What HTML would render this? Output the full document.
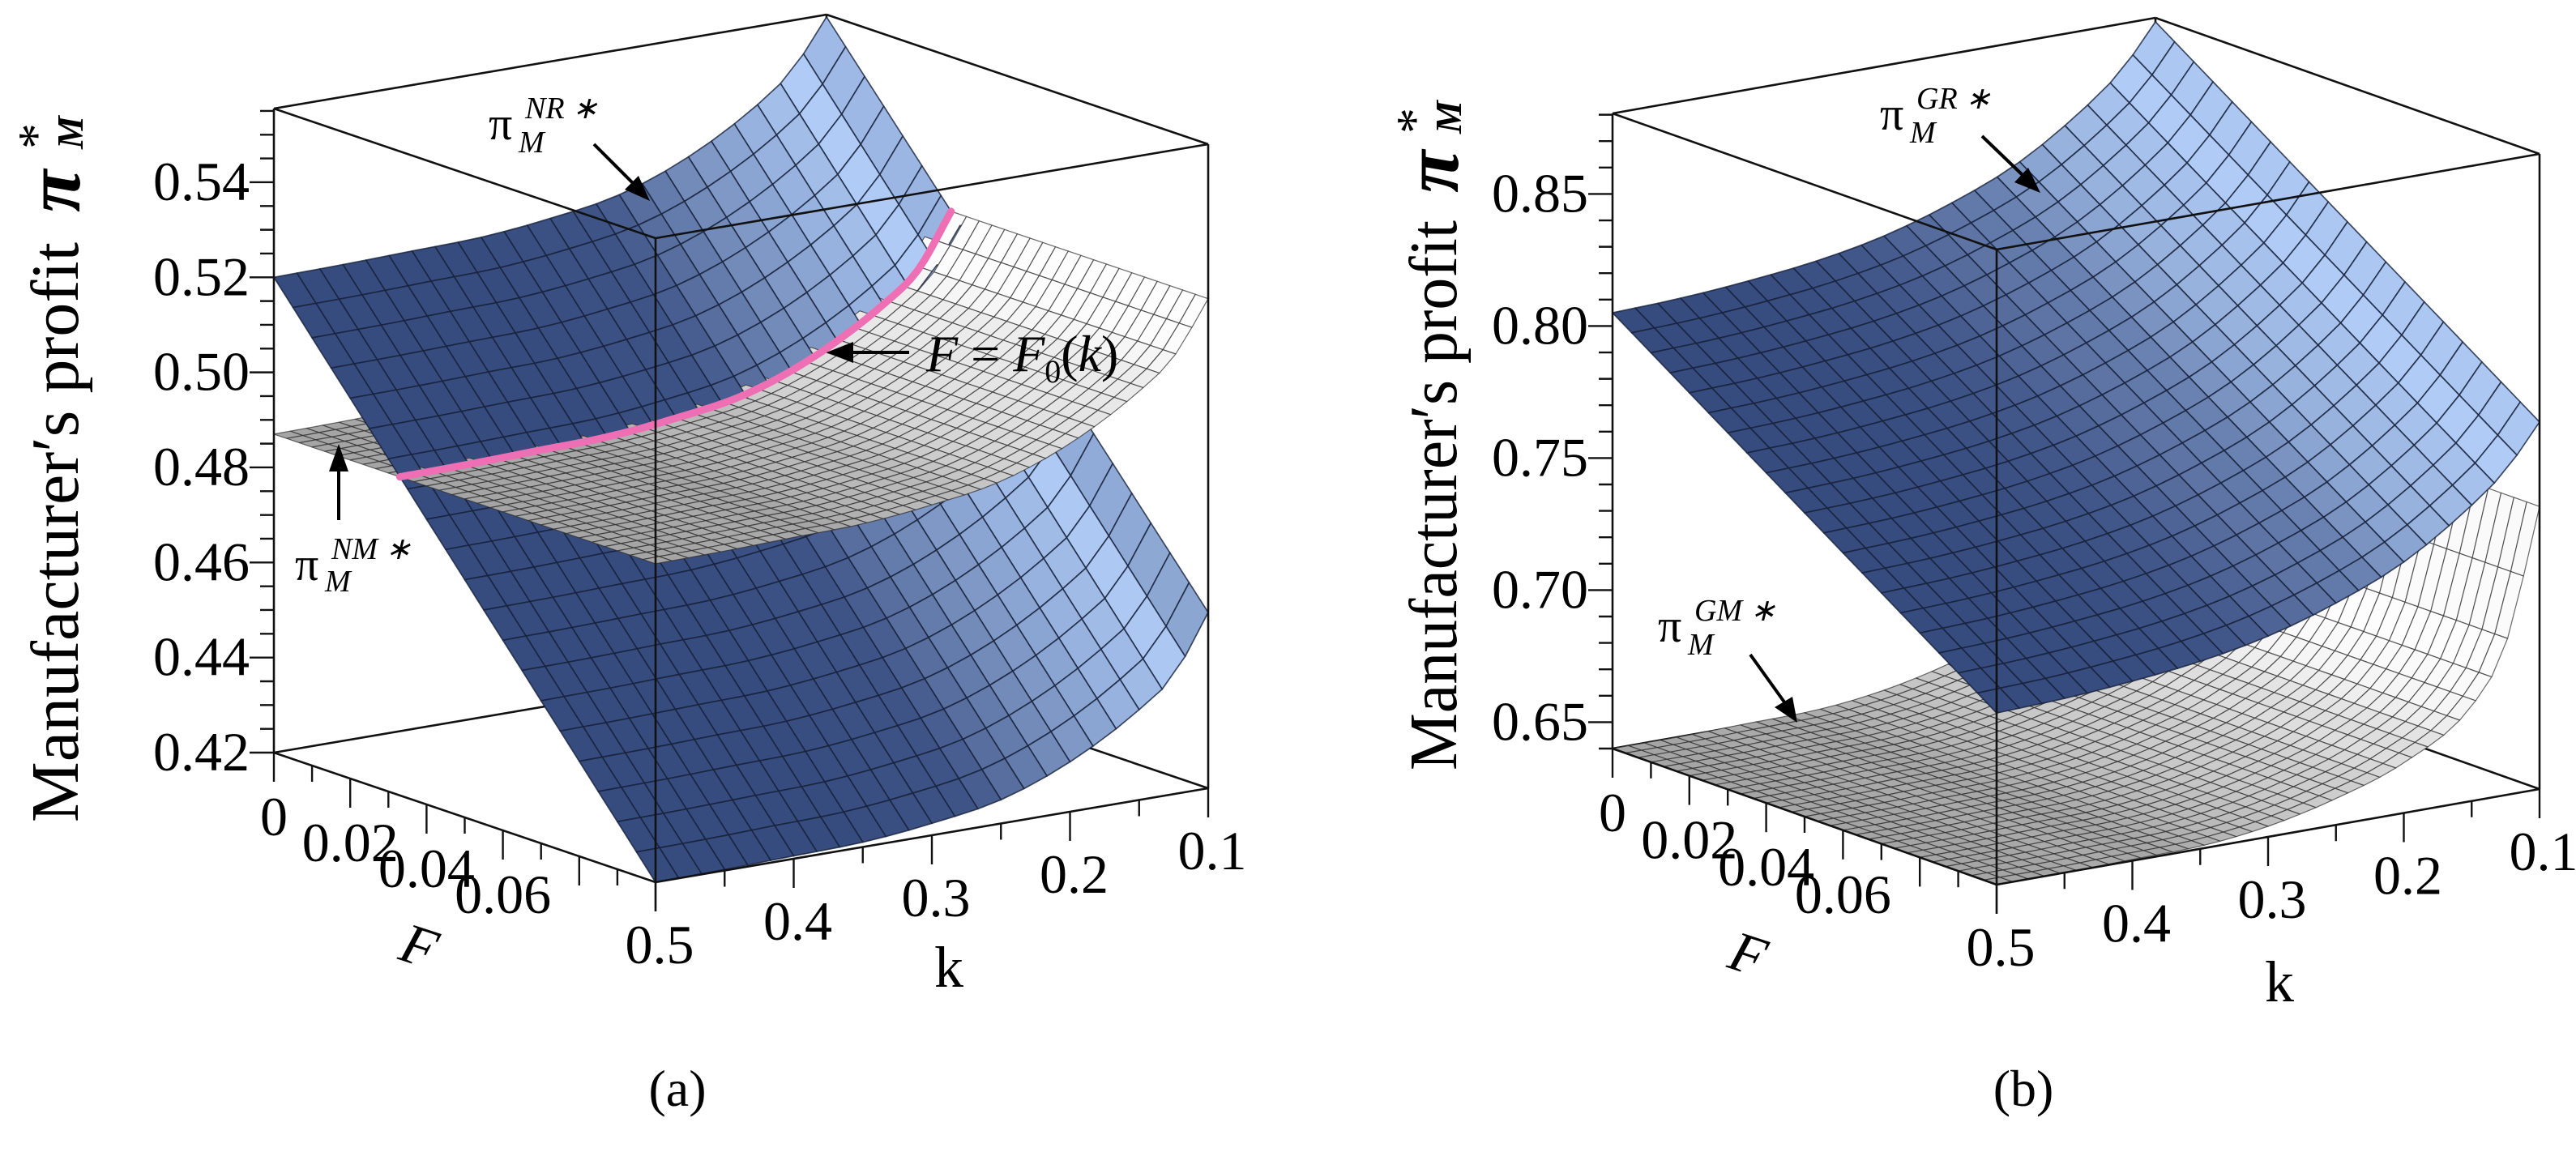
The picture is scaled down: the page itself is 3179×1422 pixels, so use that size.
<!DOCTYPE html>
<html><head><meta charset="utf-8"><title>Manufacturer profit surfaces</title>
<style>
html,body{margin:0;padding:0;background:#fff;}
svg{display:block;font-family:"Liberation Serif",serif;}
</style></head>
<body>
<svg id="fig" width="3179" height="1422" viewBox="0 0 3179 1422">
  <rect x="0" y="0" width="3179" height="1422" fill="#fff"/>
  <g id="panelA"></g>
  <g id="panelB"></g>

  <!-- titles panel a -->
  <text transform="translate(96,1015) rotate(-90)" font-size="84" textLength="716" lengthAdjust="spacingAndGlyphs">Manufacturer′s profit</text>
  <text transform="translate(98,262) rotate(-90)" font-size="96" font-style="italic" font-weight="bold">π</text>
  <text transform="translate(66,184) rotate(-90)" font-size="64">*</text>
  <text transform="translate(102,184) rotate(-90)" font-size="46" font-style="italic" font-weight="bold">M</text>
  <!-- titles panel b -->
  <text transform="translate(1797,951) rotate(-90)" font-size="84" textLength="679" lengthAdjust="spacingAndGlyphs">Manufacturer′s profit</text>
  <text transform="translate(1799,238) rotate(-90)" font-size="96" font-style="italic" font-weight="bold">π</text>
  <text transform="translate(1767,165) rotate(-90)" font-size="64">*</text>
  <text transform="translate(1803,165) rotate(-90)" font-size="46" font-style="italic" font-weight="bold">M</text>

  <!-- panel captions -->
  <text x="836" y="1365" font-size="64" text-anchor="middle">(a)</text>
  <text x="2497" y="1365" font-size="64" text-anchor="middle">(b)</text>

  <g id="annotations" fill="#000">
    <g>
      <text x="603" y="172" font-size="58">π</text>
      <text x="648" y="146" font-size="38" font-style="italic">NR ∗</text>
      <text x="640" y="188" font-size="38" font-style="italic">M</text>
      <line x1="733" y1="178" x2="783" y2="228" stroke="#000" stroke-width="4"/>
      <polygon points="802,248 771,234 788,217"/>
    </g>
    <g>
      <text x="364" y="716" font-size="58">π</text>
      <text x="409" y="690" font-size="38" font-style="italic">NM ∗</text>
      <text x="401" y="730" font-size="38" font-style="italic">M</text>
      <line x1="418" y1="642" x2="418" y2="580" stroke="#000" stroke-width="4"/>
      <polygon points="418,548 406,582 430,582"/>
    </g>
    <g>
      <line x1="1122" y1="435" x2="1050" y2="435" stroke="#000" stroke-width="4"/>
      <polygon points="1020,435 1053,422 1053,448"/>
      <text x="1143" y="458" font-size="64" font-style="italic">F <tspan font-style="normal">=</tspan> F<tspan font-size="40" font-style="normal" dy="14">0</tspan><tspan dy="-14" font-style="normal">(</tspan>k<tspan font-style="normal">)</tspan></text>
    </g>
    <g>
      <text x="2320" y="160" font-size="58">π</text>
      <text x="2365" y="134" font-size="38" font-style="italic">GR ∗</text>
      <text x="2357" y="176" font-size="38" font-style="italic">M</text>
      <line x1="2446" y1="168" x2="2498" y2="218" stroke="#000" stroke-width="4"/>
      <polygon points="2518,238 2486,225 2503,207"/>
    </g>
    <g>
      <text x="2046" y="792" font-size="58">π</text>
      <text x="2091" y="766" font-size="38" font-style="italic">GM ∗</text>
      <text x="2083" y="808" font-size="38" font-style="italic">M</text>
      <line x1="2160" y1="808" x2="2203" y2="868" stroke="#000" stroke-width="4"/>
      <polygon points="2218,892 2190,873 2212,860"/>
    </g>
  </g>
</svg>
<script>
// ---------------- data ----------------
const kVals   = [0.5, 0.45, 0.4, 0.35, 0.3, 0.25, 0.2, 0.15, 0.125, 0.1];
// panel (a)
const nrAtF0   = [0.520, 0.5202, 0.5206, 0.521, 0.5225, 0.525, 0.5305, 0.539, 0.545, 0.555];
const nrAtFmax = [0.420, 0.4202, 0.4206, 0.421, 0.4225, 0.425, 0.4305, 0.439, 0.445, 0.457];
const nmVals   = [0.487, 0.4872, 0.4876, 0.488, 0.4895, 0.492, 0.4975, 0.506, 0.512, 0.523];
// panel (b)
const grAtF0   = [0.805, 0.806, 0.808, 0.811, 0.816, 0.824, 0.835, 0.852, 0.863, 0.879];
const grAtFmax = [0.705, 0.706, 0.708, 0.711, 0.716, 0.724, 0.735, 0.752, 0.763, 0.779];
const gmVals   = [0.640, 0.640, 0.6405, 0.641, 0.644, 0.650, 0.659, 0.676, 0.697, 0.747];
// ticks
const yTicksA = [0.42, 0.44, 0.46, 0.48, 0.50, 0.52, 0.54];
const yTicksB = [0.65, 0.70, 0.75, 0.80, 0.85];
const fTickLabels = [0, 0.02, 0.04, 0.06];
const kTickLabels = [0.5, 0.4, 0.3, 0.2, 0.1];

const svg = document.getElementById('fig');
const NS = svg.namespaceURI;
function mk(tag, attrs, parent){
  const e = document.createElementNS(NS, tag);
  for (const a in attrs) e.setAttribute(a, attrs[a]);
  parent.appendChild(e);
  return e;
}
function mono(xs, ys){
  const n = xs.length, d = [], m = [];
  for (let i=0;i<n-1;i++) d.push((ys[i+1]-ys[i])/(xs[i+1]-xs[i]));
  m[0]=d[0]; m[n-1]=d[n-2];
  for (let i=1;i<n-1;i++) m[i] = (d[i-1]*d[i]<=0) ? 0 : (d[i-1]+d[i])/2;
  for (let i=0;i<n-1;i++){
    if (d[i]===0){m[i]=0;m[i+1]=0;continue;}
    const a=m[i]/d[i], b=m[i+1]/d[i], s=a*a+b*b;
    if (s>9){const t=3/Math.sqrt(s); m[i]=t*a*d[i]; m[i+1]=t*b*d[i];}
  }
  return function(x){
    let i=0; while(i<n-2 && x>xs[i+1]) i++;
    const h=xs[i+1]-xs[i], t=(x-xs[i])/h, t2=t*t, t3=t2*t;
    return (2*t3-3*t2+1)*ys[i]+(t3-2*t2+t)*h*m[i]+(-2*t3+3*t2)*ys[i+1]+(t3-t2)*h*m[i+1];
  };
}
function curve(vals){ return mono(kVals.slice().reverse(), vals.slice().reverse()); }
function lerpC(c1,c2,t){ return 'rgb('+c1.map((v,i)=>Math.round(v+(c2[i]-v)*t)).join(',')+')'; }

function drawPanel(g, P, surfaces, extras){
  const proj = (F,k,z)=>{
    const uF=F/P.Fmax, uk=(0.5-k)/0.4, uz=(z-P.zmin)/(P.zmax-P.zmin);
    return [P.O[0]+uF*P.vF[0]+uk*P.vK[0]+uz*P.vZ[0], P.O[1]+uF*P.vF[1]+uk*P.vK[1]+uz*P.vZ[1]];
  };
  const corner = {
    lb:proj(0,0.5,P.zmin), fb:proj(P.Fmax,0.5,P.zmin), rb:proj(P.Fmax,0.1,P.zmin), bb:proj(0,0.1,P.zmin),
    lt:proj(0,0.5,P.zmax), ft:proj(P.Fmax,0.5,P.zmax), rt:proj(P.Fmax,0.1,P.zmax), bt:proj(0,0.1,P.zmax)
  };
  function edge(a,b,name){
    const l = mk('line',{x1:a[0],y1:a[1],x2:b[0],y2:b[1],stroke:'#111','stroke-width':2.6},g);
    
    
  }
  edge(corner.lb,corner.bb,'box-edge-back-left-bottom');
  edge(corner.bb,corner.rb,'box-edge-back-right-bottom');
  edge(corner.bb,corner.bt,'box-edge-back-vertical');

  const quads=[];
  const v=[1,-0.75,0.35], vl=Math.hypot(...v);
  surfaces.forEach(s=>{
    const f0=curve(s.f0), fm=curve(s.fm);
    const val=(F,k)=>{ const a=f0(k), b=fm(k); return Math.min(P.zmax,Math.max(P.zmin,a+(b-a)*F/P.Fmax)); };
    const list=[];
    for (let i=0;i<s.nF;i++) for (let j=0;j<s.nK;j++){
      const F0=P.Fmax*i/s.nF, F1=P.Fmax*(i+1)/s.nF;
      const k0=0.5-0.4*j/s.nK, k1=0.5-0.4*(j+1)/s.nK;
      const z00=val(F0,k0), z10=val(F1,k0), z11=val(F1,k1), z01=val(F0,k1);
      const pts=[proj(F0,k0,z00),proj(F1,k0,z10),proj(F1,k1,z11),proj(F0,k1,z01)];
      const H=1.2/(P.zmax-P.zmin);
      const dzF=((z10+z11)-(z00+z01))/2*H/(1/s.nF);
      const dzK=((z01+z11)-(z00+z10))/2*H/(1/s.nK);
      const n=[-dzF,-dzK,1], nl=Math.hypot(...n);
      const sh=(n[0]*v[0]+n[1]*v[1]+n[2]*v[2])/(nl*vl);
      const uzAvg=((z00+z10+z11+z01)/4-P.zmin)/(P.zmax-P.zmin);
      const depth=(F0+F1)/2/P.Fmax + (1-((0.5-(k0+k1)/2)/0.4)) + 0.45*uzAvg;
      list.push({pts,sh,depth,s});
    }
    let mn=Infinity,mx=-Infinity; list.forEach(q=>{mn=Math.min(mn,q.sh);mx=Math.max(mx,q.sh);});
    list.forEach(q=>{ q.t=Math.pow((q.sh-mn)/((mx-mn)||1), s.gamma); quads.push(q); });
  });
  quads.sort((a,b)=>a.depth-b.depth);
  quads.forEach(q=>{
    const d='M'+q.pts.map(p=>p[0].toFixed(1)+','+p[1].toFixed(1)).join('L')+'Z';
    const p=mk('path',{d:d,fill:lerpC(q.s.dark,q.s.light,q.t),stroke:q.s.stroke,'stroke-width':q.s.sw,'stroke-opacity':q.s.so,'stroke-linejoin':'round'},g);
    
    
  });

  if (extras.curve){
    const f0=curve(extras.curve.f0), fm=curve(extras.curve.fm), nm=curve(extras.curve.m);
    const pts=[];
    for (let i=0;i<=80;i++){
      const k=0.5-0.4*i/80;
      const a=f0(k), b=fm(k), m=nm(k);
      const F=(a-m)/(a-b)*P.Fmax;
      if (F>=0 && F<=P.Fmax) pts.push(proj(F,k,m));
    }
    const pl=mk('polyline',{points:pts.map(p=>p[0].toFixed(1)+','+p[1].toFixed(1)).join(' '),fill:'none',stroke:'#ee6fb3','stroke-width':9,'stroke-linecap':'round','stroke-linejoin':'round'},g);
    
    
  }

  edge(corner.lt,corner.bt,'box-edge-top-back-left');
  edge(corner.bt,corner.rt,'box-edge-top-back-right');
  edge(corner.lt,corner.ft,'box-edge-top-front-left');
  edge(corner.ft,corner.rt,'box-edge-top-front-right');
  edge(corner.ft,corner.fb,'box-edge-front-vertical');
  edge(corner.rt,corner.rb,'box-edge-right-vertical');
  edge(corner.lb,corner.fb,'f-axis-line');
  edge(corner.fb,corner.rb,'k-axis-line');
  edge(corner.lt,corner.lb,'z-axis-line');

  const zx=corner.lb[0];
  for (let z=P.zTickStart; z<=P.zmax+1e-9; z+=P.zMinor){
    const y=proj(0,0.5,z)[1];
    const major=extras.yTicks.some(t=>Math.abs(t-z)<1e-6);
    const t=mk('line',{x1:zx-(major?30:17),y1:y,x2:zx,y2:y,stroke:'#111','stroke-width':2.4},g);
    
    
  }
  extras.yTicks.forEach(z=>{
    const y=proj(0,0.5,z)[1];
    const tx=mk('text',{x:zx-30,y:y+22,'font-size':68,'text-anchor':'end'},g);
    tx.textContent=z.toFixed(2);
    
    
  });
  for (let i=0;i<=10;i++){
    const F=P.Fmax*i/10, p=proj(F,0.5,P.zmin), major=i%2===0;
    const t=mk('line',{x1:p[0],y1:p[1],x2:p[0],y2:p[1]+(major?36:20),stroke:'#111','stroke-width':2.4},g);
    
    
  }
  fTickLabels.forEach(F=>{
    const p=proj(F,0.5,P.zmin);
    const tx=mk('text',{x:p[0],y:p[1]+102,'font-size':68,'text-anchor':'middle'},g);
    tx.textContent=String(F);
    
    
  });
  for (let i=0;i<=8;i++){
    const k=0.5-0.05*i, p=proj(P.Fmax,k,P.zmin), major=i%2===0;
    const t=mk('line',{x1:p[0],y1:p[1],x2:p[0],y2:p[1]+(major?36:20),stroke:'#111','stroke-width':2.4},g);
    
    
  }
  kTickLabels.forEach(k=>{
    const p=proj(P.Fmax,k,P.zmin);
    const tx=mk('text',{x:p[0]+5,y:p[1]+100,'font-size':68,'text-anchor':'middle'},g);
    tx.textContent=String(k);
    
    
  });
  const fl=mk('text',{x:0,y:0,'font-size':70,'font-style':'italic','text-anchor':'middle',transform:'translate('+extras.fLabel[0]+','+extras.fLabel[1]+') rotate(18)'},g);
  fl.textContent='F';
  
  
  const kl=mk('text',{x:extras.kLabel[0],y:extras.kLabel[1],'font-size':72,'text-anchor':'middle'},g);
  kl.textContent='k';
  
  
}

const blue={dark:[54,75,126],light:[176,204,246],stroke:'#17203a',sw:1.7,so:0.8,nF:20,nK:24,gamma:2.2};
const gray={dark:[165,165,165],light:[253,253,253],stroke:'#2a2a2a',sw:1.2,so:0.7,nF:30,nK:34,gamma:0.9};

drawPanel(document.getElementById('panelA'),
  {O:[338,929],vF:[471,160],vK:[682,-116],vZ:[0,-795],zmin:0.42,zmax:0.5555,Fmax:0.1,zTickStart:0.42,zMinor:0.005},
  [Object.assign({},blue,{f0:nrAtF0,fm:nrAtFmax,name:'nr-surface-patch'}),
   Object.assign({},gray,{f0:nmVals,fm:nmVals,name:'nm-surface-patch'})],
  {yTicks:yTicksA, fLabel:[510,1190], kLabel:[1171,1218], curve:{f0:nrAtF0,fm:nrAtFmax,m:nmVals}});

drawPanel(document.getElementById('panelB'),
  {O:[1990,924],vF:[474,168],vK:[670,-118],vZ:[0,-784],zmin:0.64,zmax:0.8805,Fmax:0.1,zTickStart:0.64,zMinor:0.01},
  [Object.assign({},blue,{f0:grAtF0,fm:grAtFmax,name:'gr-surface-patch'}),
   Object.assign({},gray,{f0:gmVals,fm:gmVals,name:'gm-surface-patch'})],
  {yTicks:yTicksB, fLabel:[2150,1200], kLabel:[2813,1236]});

// keep annotations on top
svg.appendChild(document.getElementById('annotations'));
</script>
</body></html>
